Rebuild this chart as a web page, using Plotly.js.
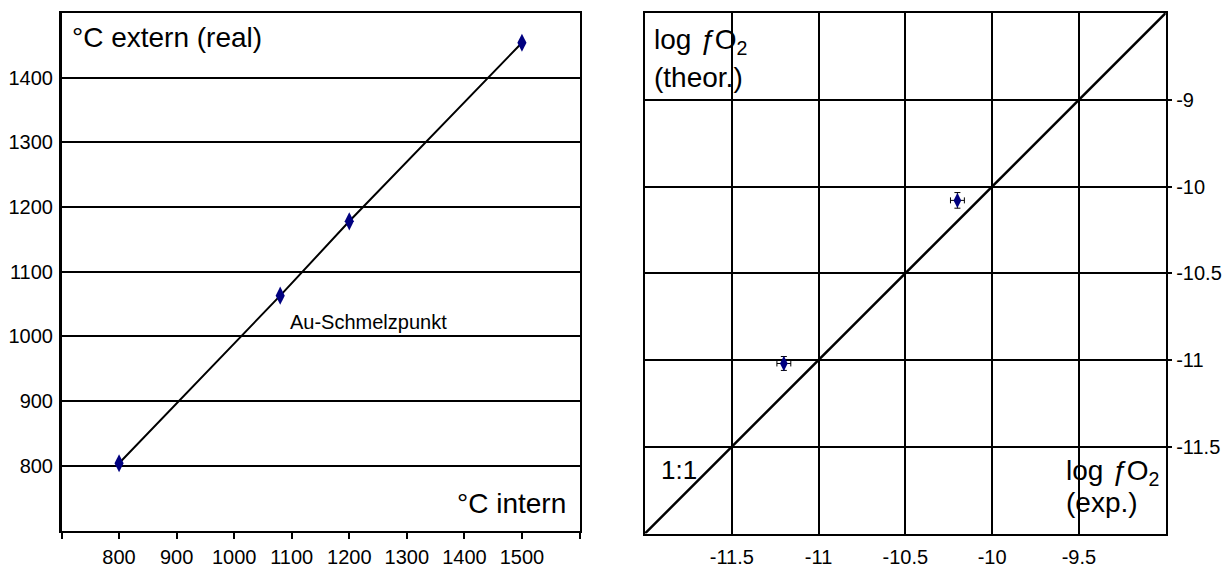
<!DOCTYPE html>
<html>
<head>
<meta charset="utf-8">
<script src="https://cdn.plot.ly/plotly-3.0.1.min.js"></script>
<style>
  html, body { margin: 0; padding: 0; background: #fff; }
  #chart { width: 1228px; height: 567px; }
</style>
</head>
<body>
<div id="chart"></div>
<script>
// ---- Data (left panel: furnace calibration) ----
const tempIntern = [800, 1080, 1200, 1500];
const tempExtern = [804, 1063, 1178, 1454];
const leftXTickVals = [800, 900, 1000, 1100, 1200, 1300, 1400, 1500];
const leftXTickText = ['800', '900', '1000', '1100', '1200', '1300', '1400', '1500'];
const leftYTickVals = [800, 900, 1000, 1100, 1200, 1300, 1400];
const leftYTickText = ['800', '900', '1000', '1100', '1200', '1300', '1400'];

// ---- Data (right panel: oxygen fugacity) ----
const logfO2Exp = [-11.2, -10.2];
const logfO2Theor = [-11.02, -10.08];
const errExp = [0.04, 0.04];
const errTheor = [0.04, 0.045];
const oneToOne = [-12, -9];
const rightXTickVals = [-11.5, -11, -10.5, -10, -9.5];
const rightXTickText = ['-11.5', '-11', '-10.5', '-10', '-9.5'];
const rightYTickVals = [-11.5, -11, -10.5, -10, -9.5];
const rightYTickText = ['-11.5', '-11', '-10.5', '-10', '-9'];

const W = 1228, H = 567;
const FONT = 'Liberation Sans, Arial, sans-serif';
const NAVY = '#000080';

// pixel -> paper helpers for domains
const px = v => v / W;
const py = v => (H - v) / H;

const traces = [
  {
    x: tempIntern, y: tempExtern, xaxis: 'x', yaxis: 'y',
    mode: 'lines+markers', type: 'scatter',
    line: { color: '#000', width: 2 },
    marker: { symbol: 'diamond-tall', size: 13, color: NAVY, line: { width: 0 } },
    hoverinfo: 'x+y', showlegend: false
  },
  {
    x: oneToOne, y: oneToOne, xaxis: 'x2', yaxis: 'y2',
    mode: 'lines', type: 'scatter',
    line: { color: '#000', width: 2.5 },
    hoverinfo: 'skip', showlegend: false
  },
  {
    x: logfO2Exp, y: logfO2Theor, xaxis: 'x2', yaxis: 'y2',
    mode: 'markers', type: 'scatter',
    marker: { symbol: 'diamond-tall', size: 11, color: NAVY, line: { width: 0 } },
    error_x: { type: 'data', array: errExp, visible: true, color: '#000', thickness: 1, width: 3 },
    error_y: { type: 'data', array: errTheor, visible: true, color: '#000', thickness: 1, width: 3 },
    showlegend: false
  }
];

const axCommon = {
  showline: true, linecolor: '#000', linewidth: 2.5, mirror: true,
  zeroline: false, fixedrange: true,
  tickfont: { family: FONT, size: 20, color: '#000' }
};

const fO2 = 'log <i>ƒ</i>O<sub>2</sub>';

const layout = {
  width: W, height: H,
  margin: { l: 0, r: 0, t: 0, b: 0 },
  paper_bgcolor: '#fff', plot_bgcolor: '#fff',
  font: { family: FONT, color: '#000' },
  showlegend: false,
  xaxis: Object.assign({}, axCommon, {
    domain: [px(61.5), px(579.5)], anchor: 'y',
    range: [700, 1600], showgrid: false,
    tickmode: 'array', tickvals: leftXTickVals, ticktext: leftXTickText,
    ticks: 'outside', ticklen: 6, tickwidth: 2, tickcolor: '#000',
    minor: { tick0: 700, dtick: 100, ticks: 'outside', ticklen: 6, tickwidth: 2, tickcolor: '#000', showgrid: false },
    ticklabelstandoff: 1
  }),
  yaxis: Object.assign({}, axCommon, {
    domain: [py(530.5), py(13)], anchor: 'x',
    range: [700, 1500], showgrid: true, gridcolor: '#000', gridwidth: 2,
    tickmode: 'array', tickvals: leftYTickVals, ticktext: leftYTickText,
    ticks: '', ticklabelstandoff: 2
  }),
  xaxis2: Object.assign({}, axCommon, {
    domain: [px(645), px(1165.7)], anchor: 'y2',
    range: [-12, -9], showgrid: true, gridcolor: '#000', gridwidth: 2,
    tickmode: 'array', tickvals: rightXTickVals, ticktext: rightXTickText,
    ticks: '', ticklabelstandoff: 4
  }),
  yaxis2: Object.assign({}, axCommon, {
    domain: [py(533.5), py(13)], anchor: 'x2', side: 'right',
    range: [-12, -9], showgrid: true, gridcolor: '#000', gridwidth: 2,
    tickmode: 'array', tickvals: rightYTickVals, ticktext: rightYTickText,
    ticks: 'outside', ticklen: 4, tickwidth: 2, tickcolor: '#000',
    ticklabelstandoff: 0
  }),
  annotations: [
    { xref: 'x domain', yref: 'y domain', x: 0.016, y: 0.952, xanchor: 'left', yanchor: 'middle',
      text: '°C extern (real)', showarrow: false, font: { family: FONT, size: 28, color: '#000' } },
    { xref: 'x domain', yref: 'y domain', x: 0.977, y: 0.052, xanchor: 'right', yanchor: 'middle',
      text: '°C intern', showarrow: false, font: { family: FONT, size: 28, color: '#000' } },
    { xref: 'x domain', yref: 'y domain', x: 0.437, y: 0.403, xanchor: 'left', yanchor: 'middle',
      text: 'Au-Schmelzpunkt', showarrow: false, font: { family: FONT, size: 20, color: '#000' } },
    { xref: 'x2 domain', yref: 'y2 domain', x: 0.013, y: 0.946, xanchor: 'left', yanchor: 'middle',
      text: fO2, showarrow: false, font: { family: FONT, size: 28, color: '#000' } },
    { xref: 'x2 domain', yref: 'y2 domain', x: 0.013, y: 0.877, xanchor: 'left', yanchor: 'middle',
      text: '(theor.)', showarrow: false, font: { family: FONT, size: 28, color: '#000' } },
    { xref: 'x2 domain', yref: 'y2 domain', x: 0.805, y: 0.118, xanchor: 'left', yanchor: 'middle',
      text: fO2, showarrow: false, font: { family: FONT, size: 28, color: '#000' } },
    { xref: 'x2 domain', yref: 'y2 domain', x: 0.805, y: 0.060, xanchor: 'left', yanchor: 'middle',
      text: '(exp.)', showarrow: false, font: { family: FONT, size: 28, color: '#000' } },
    { xref: 'x2 domain', yref: 'y2 domain', x: 0.026, y: 0.122, xanchor: 'left', yanchor: 'middle',
      text: '1:1', showarrow: false, font: { family: FONT, size: 26, color: '#000' } }
  ]
};

Plotly.newPlot('chart', traces, layout, { staticPlot: true, displayModeBar: false });
</script>
</body>
</html>
